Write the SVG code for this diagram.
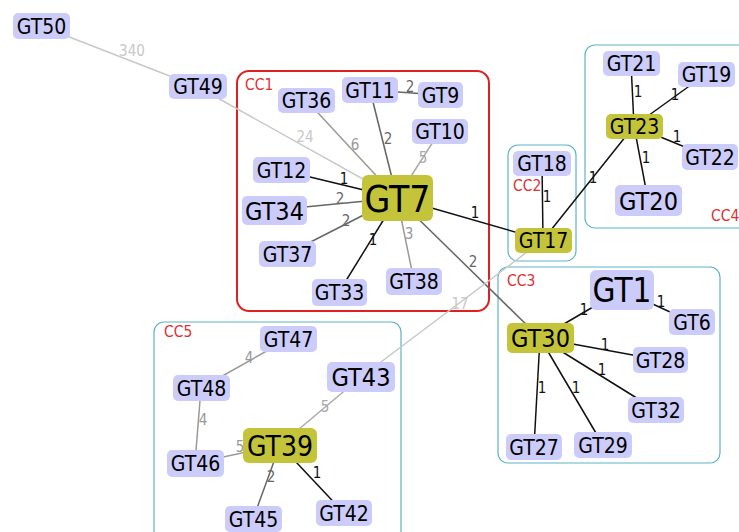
<svg xmlns="http://www.w3.org/2000/svg" width="739" height="532" viewBox="0 0 739 532">
<style>
text{font-family:"DejaVu Sans Condensed","DejaVu Sans",sans-serif;}
.n rect{fill:#ccccfa;}
.h rect{fill:#c4c43a;}
.n text,.h text{fill:#000;text-anchor:middle;font-size:21px;}
.e line{stroke-width:1.5;fill:none;}
.e text{font-size:15px;text-anchor:middle;}
.w1{stroke:#111;} .t1{fill:#111;}
.w2{stroke:#666;} .t2{fill:#666;}
.w3{stroke:#999;} .t3{fill:#999;}
.w5{stroke:#aaa;} .t5{fill:#aaa;}
.w17{stroke:#c8c8c8;} .t17{fill:#c8c8c8;}
.grp{fill:none;stroke:#5fb3c6;stroke-width:1.2;}
.cc{fill:#e03030;font-size:15.5px;}
</style>
<rect width="739" height="532" fill="#fff"/>
<g id="groups">
<rect x="237" y="71" width="252" height="240" rx="12" fill="none" stroke="#e02020" stroke-width="2"/>
<text class="cc" x="245" y="90">CC1</text>
<rect class="grp" x="508" y="145" width="68" height="116" rx="10"/>
<text class="cc" x="513" y="191">CC2</text>
<rect class="grp" x="498" y="267" width="222" height="196" rx="10"/>
<text class="cc" x="507" y="286">CC3</text>
<rect class="grp" x="585" y="45" width="165" height="183" rx="10"/>
<text class="cc" x="711" y="221">CC4</text>
<rect class="grp" x="154" y="322" width="247" height="220" rx="10"/>
<text class="cc" x="164" y="337">CC5</text>
</g>
<g id="connectors" class="e">
<line class="w17" x1="41" y1="26" x2="198" y2="87"/>
<line class="w17" x1="198" y1="87" x2="397" y2="198"/>
<line class="w3" x1="306" y1="100" x2="397" y2="198"/>
<line class="w2" x1="370" y1="90" x2="397" y2="198"/>
<line class="w2" x1="370" y1="90" x2="440" y2="95"/>
<line class="w5" x1="440" y1="131" x2="397" y2="198"/>
<line class="w1" x1="281" y1="170" x2="397" y2="198"/>
<line class="w2" x1="274" y1="210" x2="397" y2="198"/>
<line class="w2" x1="287" y1="254" x2="397" y2="198"/>
<line class="w1" x1="339" y1="292" x2="397" y2="198"/>
<line class="w3" x1="414" y1="281" x2="397" y2="198"/>
<line class="w1" x1="397" y1="198" x2="543" y2="240"/>
<line class="w2" x1="397" y1="198" x2="540" y2="338"/>
<line class="w17" x1="361" y1="377" x2="543" y2="240"/>
<line class="w1" x1="542" y1="163" x2="543" y2="240"/>
<line class="w1" x1="543" y1="240" x2="634" y2="126"/>
<line class="w1" x1="631" y1="63" x2="634" y2="126"/>
<line class="w1" x1="706" y1="74" x2="634" y2="126"/>
<line class="w1" x1="709" y1="157" x2="634" y2="126"/>
<line class="w1" x1="648" y1="200" x2="634" y2="126"/>
<line class="w1" x1="540" y1="338" x2="622" y2="290"/>
<line class="w1" x1="622" y1="290" x2="692" y2="322"/>
<line class="w1" x1="540" y1="338" x2="660" y2="360"/>
<line class="w1" x1="540" y1="338" x2="656" y2="410"/>
<line class="w1" x1="540" y1="338" x2="603" y2="445"/>
<line class="w1" x1="540" y1="338" x2="534" y2="447"/>
<line class="w3" x1="288" y1="339" x2="201" y2="388"/>
<line class="w3" x1="201" y1="388" x2="195" y2="463"/>
<line class="w3" x1="195" y1="463" x2="280" y2="445"/>
<line class="w5" x1="280" y1="445" x2="361" y2="377"/>
<line class="w2" x1="280" y1="445" x2="253" y2="519"/>
<line class="w1" x1="280" y1="445" x2="344" y2="513"/>
<text class="t17" x="132" y="56">340</text>
<text class="t17" x="305" y="142">24</text>
<text class="t3" x="355" y="150">6</text>
<text class="t2" x="388" y="144">2</text>
<text class="t2" x="410" y="92">2</text>
<text class="t5" x="423" y="163">5</text>
<text class="t1" x="344" y="184">1</text>
<text class="t2" x="340" y="204">2</text>
<text class="t2" x="346" y="226">2</text>
<text class="t1" x="373" y="245">1</text>
<text class="t3" x="409" y="239">3</text>
<text class="t1" x="475" y="218">1</text>
<text class="t2" x="473" y="267">2</text>
<text class="t17" x="460" y="309">17</text>
<text class="t1" x="547" y="202">1</text>
<text class="t1" x="593" y="183">1</text>
<text class="t1" x="638" y="97">1</text>
<text class="t1" x="675" y="100">1</text>
<text class="t1" x="677" y="142">1</text>
<text class="t1" x="646" y="163">1</text>
<text class="t1" x="584" y="315">1</text>
<text class="t1" x="661" y="307">1</text>
<text class="t1" x="605" y="350">1</text>
<text class="t1" x="602" y="375">1</text>
<text class="t1" x="576" y="393">1</text>
<text class="t1" x="542" y="393">1</text>
<text class="t3" x="249" y="363">4</text>
<text class="t3" x="203" y="425">4</text>
<text class="t3" x="240" y="452">5</text>
<text class="t5" x="325" y="412">5</text>
<text class="t2" x="271" y="482">2</text>
<text class="t1" x="317" y="478">1</text>
</g>
<g id="GT50" class="n"><rect x="13" y="13" width="57" height="26" rx="5"/><text x="41.5" y="33.5">GT50</text></g>
<g id="GT49" class="n"><rect x="169" y="74" width="58" height="25" rx="5"/><text x="198" y="94">GT49</text></g>
<g id="GT36" class="n"><rect x="278" y="88" width="57" height="25" rx="5"/><text x="306.5" y="108">GT36</text></g>
<g id="GT11" class="n"><rect x="342" y="77" width="56" height="26" rx="5"/><text x="370" y="97.5">GT11</text></g>
<g id="GT9" class="n"><rect x="418" y="82" width="45" height="26" rx="5"/><text x="440.5" y="102.5">GT9</text></g>
<g id="GT10" class="n"><rect x="412" y="119" width="56" height="25" rx="5"/><text x="440" y="139">GT10</text></g>
<g id="GT12" class="n"><rect x="253" y="157" width="57" height="26" rx="5"/><text x="281.5" y="177.5">GT12</text></g>
<g id="GT34" class="n"><rect x="242" y="196" width="65" height="29" rx="5"/><text x="274.5" y="219.5" style="font-size:25px">GT34</text></g>
<g id="GT37" class="n"><rect x="259" y="241" width="57" height="26" rx="5"/><text x="287.5" y="261.5">GT37</text></g>
<g id="GT33" class="n"><rect x="312" y="279" width="55" height="27" rx="5"/><text x="339.5" y="300">GT33</text></g>
<g id="GT38" class="n"><rect x="386" y="268" width="56" height="27" rx="5"/><text x="414" y="289">GT38</text></g>
<g id="GT7" class="h"><rect x="362" y="175" width="71" height="46" rx="6"/><text x="397.5" y="211.5" style="font-size:37px">GT7</text></g>
<g id="GT18" class="n"><rect x="513" y="151" width="58" height="25" rx="5"/><text x="542" y="171">GT18</text></g>
<g id="GT17" class="h"><rect x="515" y="228" width="57" height="25" rx="5"/><text x="543.5" y="248">GT17</text></g>
<g id="GT21" class="n"><rect x="603" y="51" width="57" height="25" rx="5"/><text x="631.5" y="71">GT21</text></g>
<g id="GT19" class="n"><rect x="678" y="62" width="57" height="25" rx="5"/><text x="706.5" y="82">GT19</text></g>
<g id="GT23" class="h"><rect x="606" y="114" width="57" height="25" rx="5"/><text x="634.5" y="134">GT23</text></g>
<g id="GT22" class="n"><rect x="682" y="144" width="56" height="26" rx="5"/><text x="710" y="164.5">GT22</text></g>
<g id="GT20" class="n"><rect x="615" y="185" width="67" height="31" rx="5"/><text x="648.5" y="209.5" style="font-size:25px">GT20</text></g>
<g id="GT1" class="n"><rect x="590" y="270" width="64" height="40" rx="6"/><text x="622" y="301.5" style="font-size:33px">GT1</text></g>
<g id="GT6" class="n"><rect x="669" y="309" width="46" height="26" rx="5"/><text x="692" y="329.5">GT6</text></g>
<g id="GT30" class="h"><rect x="507" y="323" width="67" height="30" rx="5"/><text x="540.5" y="347" style="font-size:25px">GT30</text></g>
<g id="GT28" class="n"><rect x="633" y="347" width="55" height="26" rx="5"/><text x="660.5" y="367.5">GT28</text></g>
<g id="GT32" class="n"><rect x="628" y="397" width="56" height="26" rx="5"/><text x="656" y="417.5">GT32</text></g>
<g id="GT27" class="n"><rect x="506" y="434" width="56" height="26" rx="5"/><text x="534" y="454.5">GT27</text></g>
<g id="GT29" class="n"><rect x="574" y="432" width="58" height="26" rx="5"/><text x="603" y="452.5">GT29</text></g>
<g id="GT47" class="n"><rect x="260" y="326" width="57" height="26" rx="5"/><text x="288.5" y="346.5">GT47</text></g>
<g id="GT48" class="n"><rect x="173" y="375" width="57" height="26" rx="5"/><text x="201.5" y="395.5">GT48</text></g>
<g id="GT43" class="n"><rect x="327" y="362" width="68" height="30" rx="5"/><text x="361" y="386" style="font-size:25px">GT43</text></g>
<g id="GT39" class="h"><rect x="243" y="428" width="74" height="35" rx="6"/><text x="280" y="455.5" style="font-size:28px">GT39</text></g>
<g id="GT46" class="n"><rect x="167" y="450" width="57" height="27" rx="5"/><text x="195.5" y="471">GT46</text></g>
<g id="GT45" class="n"><rect x="225" y="506" width="57" height="26" rx="5"/><text x="253.5" y="526.5">GT45</text></g>
<g id="GT42" class="n"><rect x="316" y="500" width="56" height="26" rx="5"/><text x="344" y="520.5">GT42</text></g>
</svg>
